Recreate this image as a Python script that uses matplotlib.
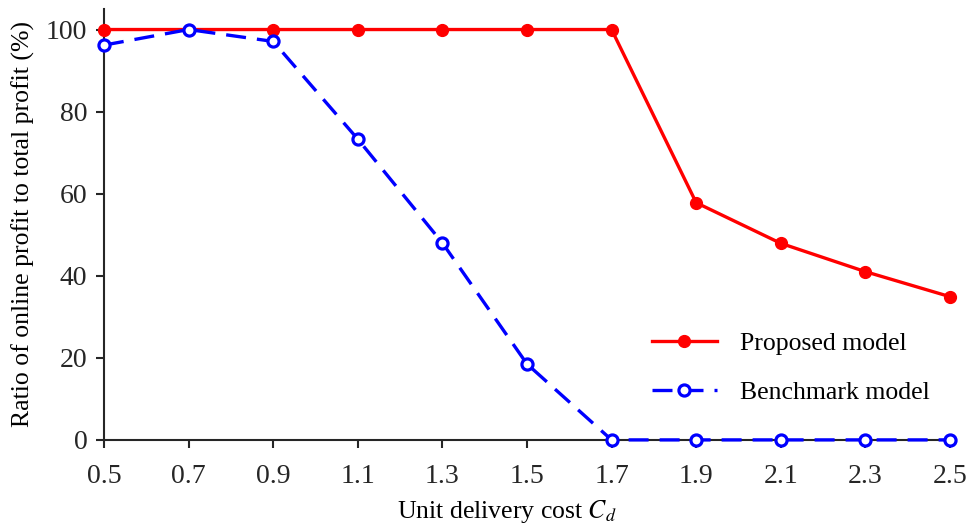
import matplotlib
matplotlib.use('Agg')
import matplotlib.pyplot as plt

# data
delivery_cost = [0.5, 0.7, 0.9, 1.1, 1.3, 1.5, 1.7, 1.9, 2.1, 2.3, 2.5]
proposed = [100, 100, 100, 100, 100, 100, 100, 57.8, 47.9, 41.0, 34.9]
benchmark = [96.2, 100, 97.1, 73.3, 48.0, 18.5, 0, 0, 0, 0, 0]
x_ticks = [0.5, 0.7, 0.9, 1.1, 1.3, 1.5, 1.7, 1.9, 2.1, 2.3, 2.5]
y_ticks = [0, 20, 40, 60, 80, 100]

plt.rcParams['font.family'] = ['Liberation Serif', 'DejaVu Serif']
plt.rcParams['mathtext.fontset'] = 'stix'

axis_color = '#262626'

fig = plt.figure(figsize=(9.68, 5.30), dpi=100)
ax = fig.add_axes([0.1074, 0.170, 0.8740, 0.813])

ax.plot(delivery_cost, proposed, color='red', lw=2.4, marker='o',
        markersize=8.5, markerfacecolor='red', markeredgecolor='red',
        label='Proposed model', clip_on=False, zorder=3)
ax.plot(delivery_cost, benchmark, color='blue', lw=2.4, dashes=(6, 3.3),
        marker='o', markersize=8, markerfacecolor='white',
        markeredgecolor='blue', markeredgewidth=2.3,
        label='Benchmark model', clip_on=False, zorder=4)

ax.set_xlim(0.5, 2.5)
ax.set_ylim(0, 105)
ax.set_xticks(x_ticks)
ax.set_xticklabels([f'{v:.1f}' for v in x_ticks])
ax.set_yticks(y_ticks)

for side in ['top', 'right']:
    ax.spines[side].set_visible(False)
for side in ['left', 'bottom']:
    ax.spines[side].set_color(axis_color)
    ax.spines[side].set_linewidth(1.5)

ax.tick_params(direction='out', length=6, width=1.5, colors=axis_color,
               labelsize=20, pad=6)
ax.tick_params(axis='x', pad=11)

ax.set_xlabel('Unit delivery cost $C_d$', fontsize=18.5, color='black',
              labelpad=7, x=0.476)
ax.set_ylabel('Ratio of online profit to total profit (%)', fontsize=18.5,
              color='black', labelpad=8)

ax.legend(loc='lower right', bbox_to_anchor=(1.003, 0.03), frameon=False,
          fontsize=18.5, handlelength=2.5, handletextpad=0.9, labelspacing=1.0)

fig.savefig('out.png', dpi=100)
